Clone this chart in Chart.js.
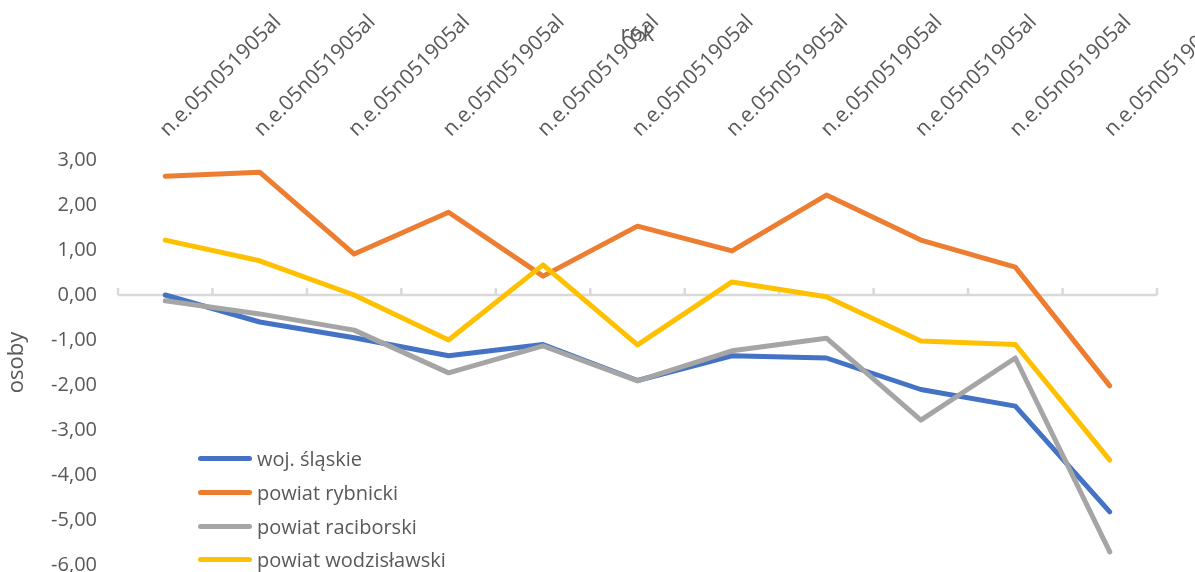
<!DOCTYPE html>
<html>
<head>
<meta charset="utf-8">
<script src="https://cdn.jsdelivr.net/npm/chart.js@4/dist/chart.umd.min.js"></script>
<style>
  html, body { margin: 0; padding: 0; background: #fff; }
  #wrap { position: relative; width: 1195px; height: 572px; overflow: hidden; }
  #legend { position: absolute; left: 198px; top: 442px; font-family: "Open Sans", sans-serif; font-size: 20px; color: #595959; }
  .row { display: flex; align-items: center; height: 33.7px; }
  .sw { width: 54px; height: 5px; border-radius: 3px; margin-right: 5px; }
</style>
</head>
<body>
<div id="wrap">
  <canvas id="c" width="1195" height="572"></canvas>
  <div id="legend"></div>
</div>
<script>
const categories = ["n.e.05n051905al","n.e.05n051905al","n.e.05n051905al","n.e.05n051905al","n.e.05n051905al","n.e.05n051905al","n.e.05n051905al","n.e.05n051905al","n.e.05n051905al","n.e.05n051905al","n.e.05n051905al"];
const seriesNames = ["woj. śląskie", "powiat rybnicki", "powiat raciborski", "powiat wodzisławski"];
const slaskie     = [0.00, -0.60, -0.95, -1.35, -1.10, -1.90, -1.35, -1.40, -2.10, -2.47, -4.82];
const rybnicki    = [2.64, 2.73, 0.91, 1.84, 0.42, 1.53, 0.98, 2.22, 1.22, 0.62, -2.02];
const raciborski  = [-0.13, -0.42, -0.78, -1.73, -1.13, -1.91, -1.24, -0.96, -2.78, -1.40, -5.71];
const wodzislawski= [1.22, 0.76, 0.00, -1.00, 0.67, -1.11, 0.29, -0.04, -1.02, -1.10, -3.67];
const yTicks = [3, 2, 1, 0, -1, -2, -3, -4, -5, -6];
const colors = ["#4472C4", "#ED7D31", "#A5A5A5", "#FFC000"];
const seriesValues = [slaskie, rybnicki, raciborski, wodzislawski];

const zeroLine = {
  id: 'zeroLine',
  beforeDatasetsDraw(chart) {
    const {ctx, chartArea: a, scales: {y}} = chart;
    const y0 = y.getPixelForValue(0);
    const n = categories.length;
    ctx.save();
    ctx.strokeStyle = '#D9D9D9';
    ctx.lineWidth = 2.5;
    ctx.beginPath();
    ctx.moveTo(a.left, y0);
    ctx.lineTo(a.right, y0);
    for (let i = 0; i <= n; i++) {
      const x = a.left + i * (a.right - a.left) / n;
      ctx.moveTo(x, y0);
      ctx.lineTo(x, y0 - 7);
    }
    ctx.stroke();
    ctx.restore();
  }
};

const datasets = seriesNames.map((name, i) => ({
  label: name,
  data: seriesValues[i],
  borderColor: colors[i],
  backgroundColor: colors[i],
  borderWidth: 5,
  pointRadius: 0,
  borderCapStyle: 'round',
  borderJoinStyle: 'round',
  tension: 0,
  order: seriesNames.length - i
}));

new Chart(document.getElementById('c'), {
  type: 'line',
  data: { labels: categories, datasets },
  plugins: [zeroLine],
  options: {
    responsive: false,
    animation: false,
    layout: { autoPadding: false, padding: { left: 0, right: 38, top: 0, bottom: 7 } },
    plugins: { legend: { display: false }, tooltip: { enabled: false } },
    scales: {
      x: {
        type: 'category',
        position: 'top',
        offset: true,
        grid: { display: false, drawTicks: false },
        border: { display: false },
        ticks: {
          minRotation: 45, maxRotation: 45, autoSkip: false,
          padding: 18,
          labelOffset: 16,
          color: '#595959',
          font: { family: 'Open Sans', size: 21 }
        },
        title: {
          display: true, text: 'rok', color: '#595959',
          font: { family: 'Open Sans', size: 22 },
          padding: { top: 22, bottom: 0 }
        },
        afterFit(s) { s.height = 160; s.paddingLeft = 0; s.paddingRight = 0; }
      },
      y: {
        min: -6, max: 3,
        afterBuildTicks(s) { s.ticks = yTicks.map(v => ({ value: v })); },
        grid: { display: false, drawTicks: false },
        border: { display: false },
        ticks: {
          padding: 21,
          color: '#595959',
          font: { family: 'Open Sans', size: 20 },
          callback: v => Number(v).toFixed(2).replace('.', ',')
        },
        title: {
          display: true, text: 'osoby', color: '#595959',
          font: { family: 'Open Sans', size: 22 },
          padding: { top: 4, bottom: 0 }
        },
        afterFit(s) { s.width = 118; s.paddingTop = 0; s.paddingBottom = 0; }
      }
    }
  }
});

const lg = document.getElementById('legend');
seriesNames.forEach((name, i) => {
  const row = document.createElement('div');
  row.className = 'row';
  const sw = document.createElement('span');
  sw.className = 'sw';
  sw.style.background = colors[i];
  const t = document.createElement('span');
  t.textContent = name;
  row.appendChild(sw);
  row.appendChild(t);
  lg.appendChild(row);
});
</script>
</body>
</html>
